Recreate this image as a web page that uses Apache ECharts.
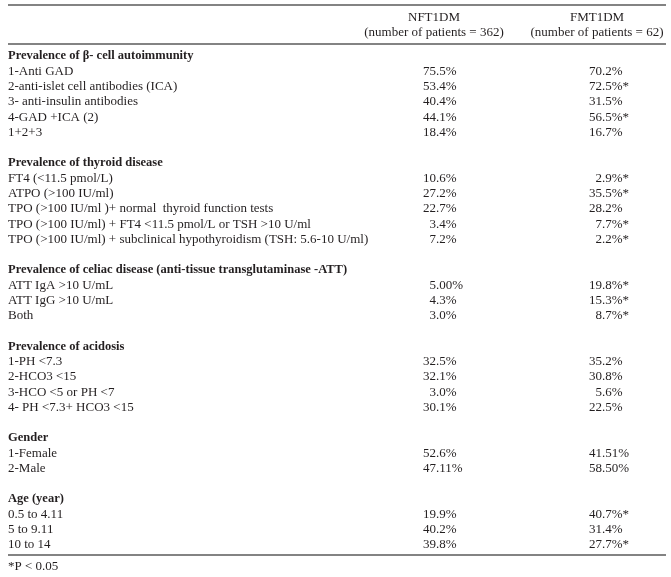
<!DOCTYPE html>
<html>
<head>
<meta charset="utf-8">
<script src="https://cdn.jsdelivr.net/npm/echarts@6/dist/echarts.min.js"></script>
<style>
html,body{margin:0;padding:0;background:#fff;}
#c{width:671px;height:577px;}
</style>
</head>
<body>
<div id="c"></div>
<script>
// ---- data ----
const rowLabels = [
  'Prevalence of β- cell autoimmunity',
  '1-Anti GAD',
  '2-anti-islet cell antibodies (ICA)',
  '3- anti-insulin antibodies',
  '4-GAD +ICA (2)',
  '1+2+3',
  ' ',
  'Prevalence of thyroid disease',
  'FT4 (<11.5 pmol/L)',
  'ATPO (>100 IU/ml)',
  'TPO (>100 IU/ml )+ normal  thyroid function tests',
  'TPO (>100 IU/ml) + FT4 <11.5 pmol/L or TSH >10 U/ml',
  'TPO (>100 IU/ml) + subclinical hypothyroidism (TSH: 5.6-10 U/ml)',
  '  ',
  'Prevalence of celiac disease (anti-tissue transglutaminase -ATT)',
  'ATT IgA >10 U/mL',
  'ATT IgG >10 U/mL',
  'Both',
  '   ',
  'Prevalence of acidosis',
  '1-PH <7.3',
  '2-HCO3 <15',
  '3-HCO <5 or PH <7',
  '4- PH <7.3+ HCO3 <15',
  '    ',
  'Gender',
  '1-Female',
  '2-Male',
  '     ',
  'Age (year)',
  '0.5 to 4.11',
  '5 to 9.11',
  '10 to 14'
];
const headingRows = [0, 7, 14, 19, 25, 29];
const nft1dm = [
  null, '75.5%', '53.4%', '40.4%', '44.1%', '18.4%', null,
  null, '10.6%', '27.2%', '22.7%', '3.4%', '7.2%', null,
  null, '5.00%', '4.3%', '3.0%', null,
  null, '32.5%', '32.1%', '3.0%', '30.1%', null,
  null, '52.6%', '47.11%', null,
  null, '19.9%', '40.2%', '39.8%'
];
const fmt1dm = [
  null, '70.2%', '72.5%*', '31.5%', '56.5%*', '16.7%', null,
  null, '2.9%*', '35.5%*', '28.2%', '7.7%*', '2.2%*', null,
  null, '19.8%*', '15.3%*', '8.7%*', null,
  null, '35.2%', '30.8%', '5.6%', '22.5%', null,
  null, '41.51%', '58.50%', null,
  null, '40.7%*', '31.4%', '27.7%*'
];
const columnTitles = ['NFT1DM', 'FMT1DM'];
const columnSubtitles = ['(number of patients = 362)', '(number of patients = 62)'];
const footnote = '*P < 0.05';

// ---- layout ----
const W = 671;
const FONT = 'Liberation Serif';
const FS = 13;
const FS_BOLD = 12.5;
const TXT = '#231f20';
const LINE = '#5a5a5a';
const colAnchor = [436, 602];   // decimal-point positions (x-axis units = px)
const headCenter = [434, 597];

const chart = echarts.init(document.getElementById('c'), null, {renderer: 'canvas'});

const rowsData = rowLabels.map((l, i) => [0, i]);

function splitVal(s) {
  const k = s.indexOf('.');
  return [s.slice(0, k), s.slice(k)];
}

chart.setOption({
  animation: false,
  backgroundColor: '#fff',
  grid: {left: 0, right: 0, top: 48.4, height: 504.2},
  xAxis: {type: 'value', min: 0, max: W, show: false},
  yAxis: {
    type: 'category',
    inverse: true,
    data: rowLabels,
    axisLine: {show: false},
    axisTick: {show: false},
    splitLine: {show: false},
    axisLabel: {
      inside: true,
      interval: 0,
      margin: 8,
      color: TXT,
      fontFamily: FONT,
      fontSize: FS,
      formatter: function (v, i) {
        return headingRows.indexOf(i) >= 0 ? '{h|' + v + '}' : v;
      },
      rich: {
        h: {fontWeight: 'bold', fontFamily: FONT, fontSize: FS_BOLD, color: TXT}
      }
    }
  },
  series: [{
    type: 'custom',
    data: rowsData,
    encode: {x: 0, y: 1},
    renderItem: function (params, api) {
      const idx = api.value(1);
      const children = [];
      [nft1dm, fmt1dm].forEach(function (arr, c) {
        const v = arr[idx];
        if (!v) return;
        const p = api.coord([colAnchor[c], idx]);
        const parts = splitVal(v);
        children.push({
          type: 'text',
          style: {text: parts[0], x: p[0], y: p[1], textAlign: 'right', textVerticalAlign: 'middle',
                  font: FS + 'px "' + FONT + '"', fill: TXT}
        });
        children.push({
          type: 'text',
          style: {text: parts[1], x: p[0], y: p[1], textAlign: 'left', textVerticalAlign: 'middle',
                  font: FS + 'px "' + FONT + '"', fill: TXT}
        });
      });
      return {type: 'group', children: children};
    }
  }],
  graphic: [
    {type: 'line', shape: {x1: 8, y1: 5, x2: 666, y2: 5}, style: {stroke: LINE, lineWidth: 1.3}},
    {type: 'line', shape: {x1: 8, y1: 44, x2: 666, y2: 44}, style: {stroke: LINE, lineWidth: 1.3}},
    {type: 'line', shape: {x1: 8, y1: 555, x2: 666, y2: 555}, style: {stroke: LINE, lineWidth: 1.3}},
    {type: 'text', x: headCenter[0], y: 18, style: {text: columnTitles[0], textAlign: 'center', textVerticalAlign: 'middle', font: FS + 'px "' + FONT + '"', fill: TXT}},
    {type: 'text', x: headCenter[0], y: 33, style: {text: columnSubtitles[0], textAlign: 'center', textVerticalAlign: 'middle', font: FS + 'px "' + FONT + '"', fill: TXT}},
    {type: 'text', x: headCenter[1], y: 18, style: {text: columnTitles[1], textAlign: 'center', textVerticalAlign: 'middle', font: FS + 'px "' + FONT + '"', fill: TXT}},
    {type: 'text', x: headCenter[1], y: 33, style: {text: columnSubtitles[1], textAlign: 'center', textVerticalAlign: 'middle', font: FS + 'px "' + FONT + '"', fill: TXT}},
    {type: 'text', x: 8, y: 567, style: {text: footnote, textAlign: 'left', textVerticalAlign: 'middle', font: FS + 'px "' + FONT + '"', fill: TXT}}
  ]
});
</script>
</body>
</html>
